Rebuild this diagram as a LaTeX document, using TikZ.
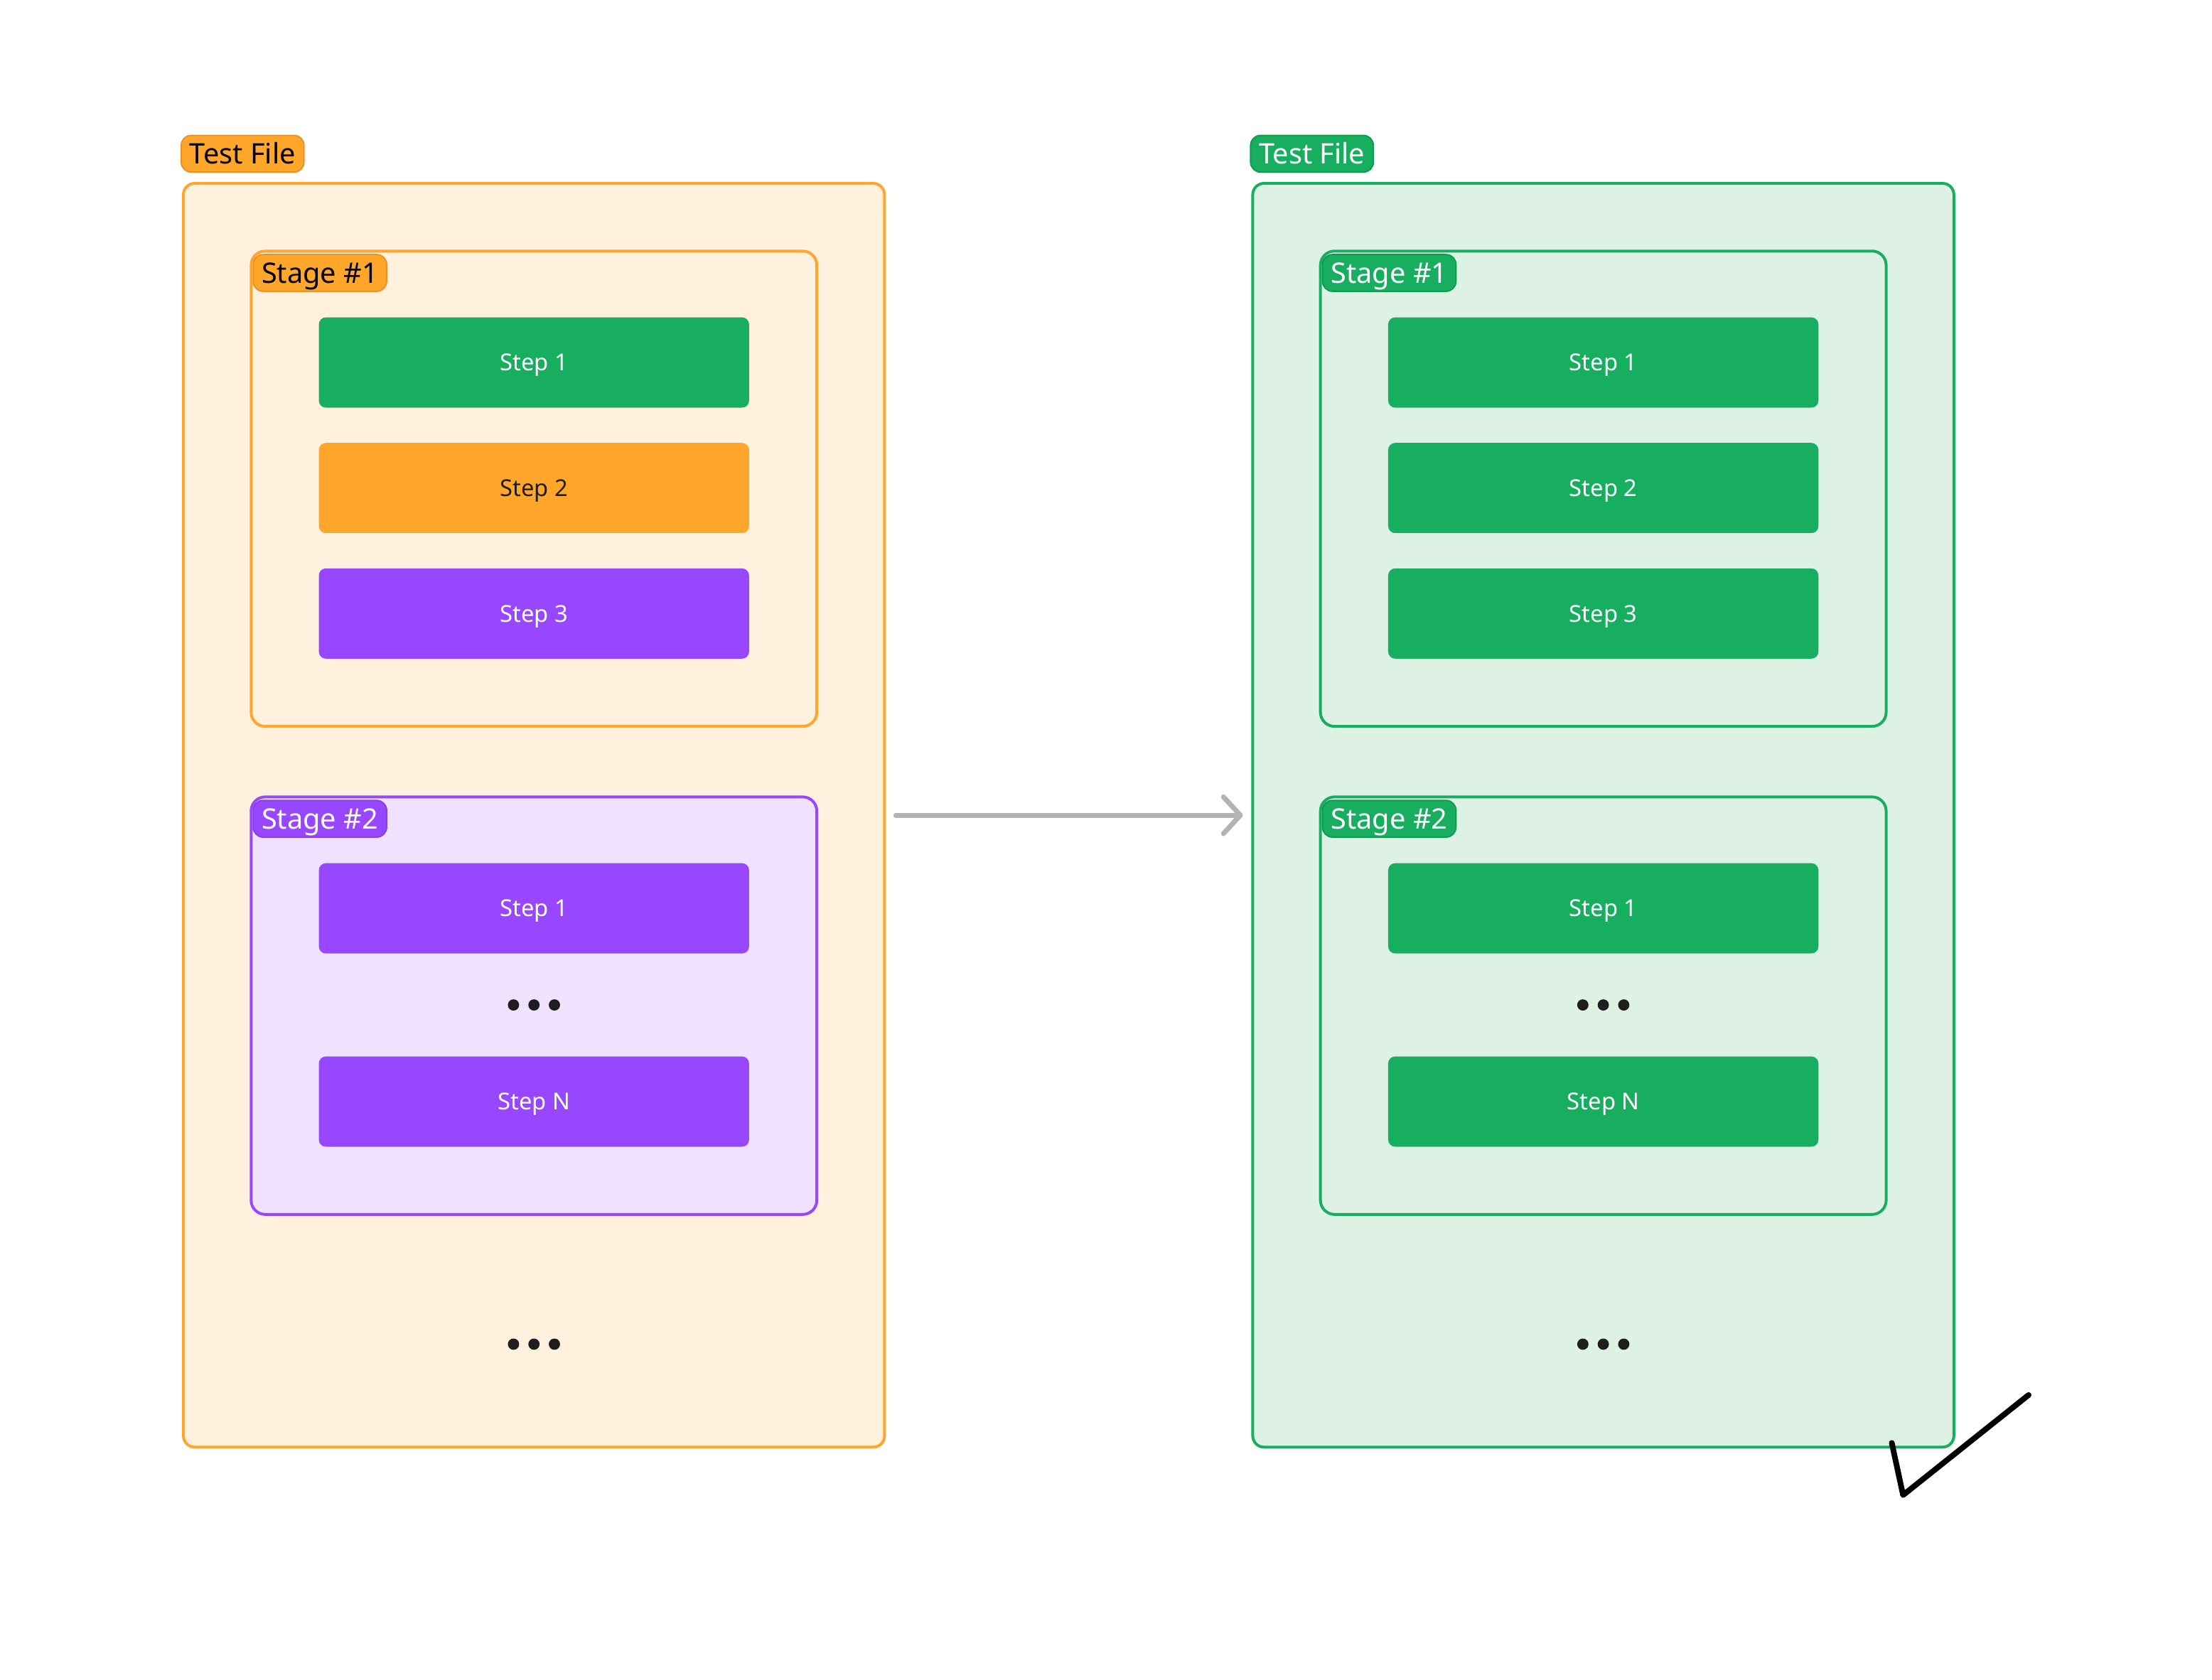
\documentclass[tikz,border=0pt]{standalone}
\usepackage{fontspec}
\setsansfont{Noto Sans}
\usetikzlibrary{positioning, arrows.meta, calc}
\definecolor{fileorange}{HTML}{FFA62B}
\definecolor{edgeorange}{HTML}{E8922A}
\definecolor{bgorange}{HTML}{FFF1DE}
\definecolor{filegreen}{HTML}{17AF5F}
\definecolor{edgegreen}{HTML}{12994F}
\definecolor{bggreen}{HTML}{DDF2E5}
\definecolor{filepurple}{HTML}{9747FF}
\definecolor{edgepurple}{HTML}{8540E6}
\definecolor{bgpurple}{HTML}{F0E1FF}
\definecolor{dotgray}{HTML}{1E1E1E}
\definecolor{arrowgray}{HTML}{B3B3B3}

\begin{document}
\begin{tikzpicture}[x=1pt, y=-1pt,
    font=\sffamily, % serifenlose Schrift wie im Bild
    filebox/.style={draw, rectangle, rounded corners=8pt, line width=2pt, minimum width=497pt, minimum height=896pt},
    stagebox/.style={draw, rectangle, rounded corners=10pt, line width=2pt, minimum width=401pt},
    stepbox/.style={rectangle, rounded corners=5pt, minimum width=305pt, minimum height=64pt, inner sep=0pt, outer sep=0pt,
        font=\sffamily\fontsize{16.5pt}{19pt}\selectfont, text height=11.8pt, text depth=0pt},
    tagbox/.style={draw, rectangle, rounded corners=7pt, line width=1pt, minimum height=26pt, inner xsep=6pt, inner ysep=0pt,
        font=\sffamily\fontsize{20pt}{23pt}\selectfont, text height=14.4pt, text depth=0pt},
    flowarrow/.style={draw=arrowgray, line width=3.5pt, line cap=round, -{Straight Barb[round, length=12pt, width=26pt]}},
    tickline/.style={draw=black, line width=4pt, line cap=round, line join=round},
    pics/threedots/.style={code={\fill[dotgray] (-14.5,0) circle[radius=4pt] (0,0) circle[radius=4pt] (14.5,0) circle[radius=4pt];}}
]
\useasboundingbox (0,0) rectangle (1568,1191);

% 1. Linke Testdatei
\node[filebox, draw=fileorange, fill=bgorange] (lfile) at (378.5,578) {};
\node[tagbox, draw=edgeorange, fill=fileorange, anchor=south west] (lfiletag) at ([xshift=-1pt, yshift=6.5pt]lfile.north west) {Test File};

% 2. Stage #1 links
\node[stagebox, draw=fileorange, fill=bgorange, minimum height=337pt, below right=48pt and 48pt of lfile.north west] (lst1) {};
\node[tagbox, draw=edgeorange, fill=fileorange, anchor=north west] (lst1tag) at ([shift={(2pt,-3pt)}]lst1.north west) {Stage \#1};
\node[stepbox, fill=filegreen, text=white, below=48pt of lst1.north] (lst1a) {Step 1};
\node[stepbox, fill=fileorange, text=dotgray, below=25pt of lst1a] (lst1b) {Step 2};
\node[stepbox, fill=filepurple, text=white, below=25pt of lst1b] (lst1c) {Step 3};

% 3. Stage #2 links
\node[stagebox, draw=filepurple, fill=bgpurple, minimum height=296pt, below=48pt of lst1] (lst2) {};
\node[tagbox, draw=edgepurple, fill=filepurple, text=white, anchor=north west] (lst2tag) at ([shift={(2pt,-3pt)}]lst2.north west) {Stage \#2};
\node[stepbox, fill=filepurple, text=white, below=48pt of lst2.north] (lst2a) {Step 1};
\node[stepbox, fill=filepurple, text=white, below=73pt of lst2a] (lst2n) {Step N};
\pic at ($(lst2a.south)!0.5!(lst2n.north)$) {threedots};
\pic at ([yshift=-91pt]lst2.south) {threedots};

% 4. Rechte Testdatei (alles gruen)
\node[filebox, draw=filegreen, fill=bggreen, right=259pt of lfile] (rfile) {};
\node[tagbox, draw=edgegreen, fill=filegreen, text=white, anchor=south west] (rfiletag) at ([xshift=-1pt, yshift=6.5pt]rfile.north west) {Test File};

% 5. Stage #1 rechts
\node[stagebox, draw=filegreen, fill=bggreen, minimum height=337pt, below right=48pt and 48pt of rfile.north west] (rst1) {};
\node[tagbox, draw=edgegreen, fill=filegreen, text=white, anchor=north west] (rst1tag) at ([shift={(2pt,-3pt)}]rst1.north west) {Stage \#1};
\node[stepbox, fill=filegreen, text=white, below=48pt of rst1.north] (rst1a) {Step 1};
\node[stepbox, fill=filegreen, text=white, below=25pt of rst1a] (rst1b) {Step 2};
\node[stepbox, fill=filegreen, text=white, below=25pt of rst1b] (rst1c) {Step 3};

% 6. Stage #2 rechts
\node[stagebox, draw=filegreen, fill=bggreen, minimum height=296pt, below=48pt of rst1] (rst2) {};
\node[tagbox, draw=edgegreen, fill=filegreen, text=white, anchor=north west] (rst2tag) at ([shift={(2pt,-3pt)}]rst2.north west) {Stage \#2};
\node[stepbox, fill=filegreen, text=white, below=48pt of rst2.north] (rst2a) {Step 1};
\node[stepbox, fill=filegreen, text=white, below=73pt of rst2a] (rst2n) {Step N};
\pic at ($(rst2a.south)!0.5!(rst2n.north)$) {threedots};
\pic at ([yshift=-91pt]rst2.south) {threedots};

% 7. Pfeil zwischen den Dateien
\draw[flowarrow, shorten <=7pt, shorten >=6pt] (lfile) -- (rfile);

% 8. Haken unten rechts
\draw[tickline] ([shift={(-45,-4)}]rfile.south east) -- ([shift={(-37,33)}]rfile.south east) -- ([shift={(52,-38)}]rfile.south east);

\end{tikzpicture}
\end{document}
